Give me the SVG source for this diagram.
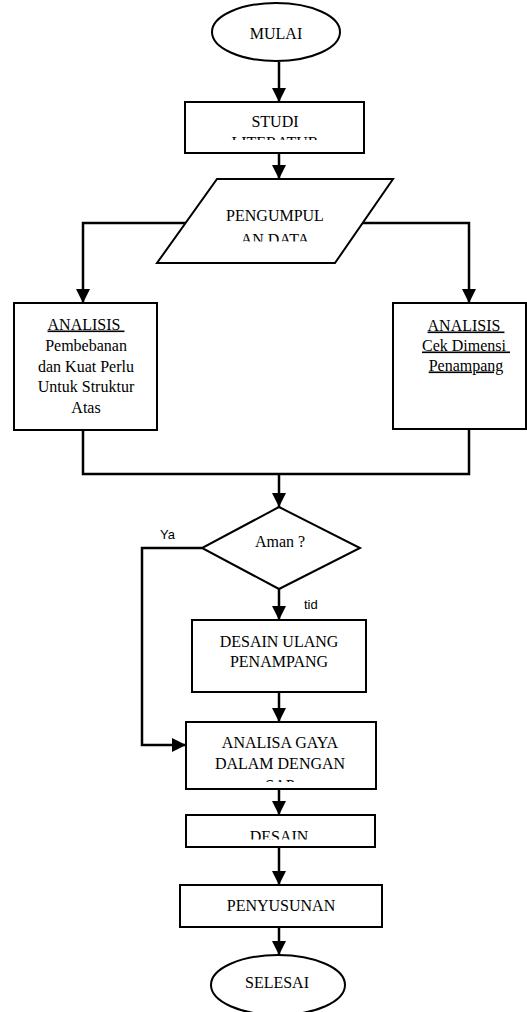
<svg xmlns="http://www.w3.org/2000/svg" width="527" height="1012" viewBox="0 0 527 1012">
<style>
.shape{fill:#fff;stroke:#000;stroke-width:2}
.conn{fill:none;stroke:#000;stroke-width:2.5}
.t{font-family:"Liberation Serif","Times New Roman",serif;font-size:16px;fill:#000;text-anchor:middle}
.s{font-family:"Liberation Sans",Arial,sans-serif;font-size:13px;fill:#000}
.u{text-decoration:underline}
</style>
<defs>
<marker id="ah" markerUnits="userSpaceOnUse" markerWidth="14" markerHeight="14" viewBox="0 0 14 14" refX="14" refY="7" orient="auto">
<path d="M0,0 L14,7 L0,14 Z" fill="#000"/>
</marker>
<clipPath id="c1"><rect x="186" y="103" width="177" height="37"/></clipPath>
<clipPath id="c2"><rect x="160" y="180" width="230" height="61.5"/></clipPath>
<clipPath id="c3"><rect x="187" y="723" width="188" height="59"/></clipPath>
<clipPath id="c4"><rect x="187" y="816" width="187" height="23.5"/></clipPath>
</defs>
<g id="connectors">
<line class="conn" x1="279" y1="62" x2="279" y2="102" marker-end="url(#ah)"/>
<line class="conn" x1="279" y1="153" x2="279" y2="179" marker-end="url(#ah)"/>
<polyline class="conn" points="186,223 83,223 83,303" marker-end="url(#ah)"/>
<polyline class="conn" points="363,223 469,223 469,303" marker-end="url(#ah)"/>
<polyline class="conn" points="83,430 83,474 469,474 469,429"/>
<line class="conn" x1="279" y1="474" x2="279" y2="507" marker-end="url(#ah)"/>
<line class="conn" x1="279" y1="589" x2="279" y2="620" marker-end="url(#ah)"/>
<polyline class="conn" points="202,548 142,548 142,745 186,745" marker-end="url(#ah)"/>
<line class="conn" x1="279" y1="692" x2="279" y2="722" marker-end="url(#ah)"/>
<line class="conn" x1="279" y1="789" x2="279" y2="815" marker-end="url(#ah)"/>
<line class="conn" x1="279" y1="847" x2="279" y2="885" marker-end="url(#ah)"/>
<line class="conn" x1="279" y1="927" x2="279" y2="955" marker-end="url(#ah)"/>
<text class="s" x="160" y="539">Ya</text>
<text class="s" x="304" y="609">tid</text>
</g>
<g id="mulai">
<ellipse class="shape" cx="276" cy="32" rx="64" ry="29"/>
<text class="t" x="276" y="39">MULAI</text>
</g>
<g id="studi">
<rect class="shape" x="185" y="102" width="179" height="51"/>
<g clip-path="url(#c1)">
<text class="t" x="275" y="127">STUDI</text>
<text class="t" x="275" y="147.5">LITERATUR</text>
</g>
</g>
<g id="pengumpulan">
<polygon class="shape" points="217,179 393,179 335,263 157,263"/>
<g clip-path="url(#c2)">
<text class="t" x="275" y="220.5">PENGUMPUL</text>
<text class="t" x="275" y="244.5">AN DATA</text>
</g>
</g>
<g id="analisis-kiri">
<rect class="shape" x="14" y="303" width="143" height="127"/>
<text class="t u" x="86" y="329.5">ANALISIS&#160;</text>
<text class="t" x="86" y="351">Pembebanan</text>
<text class="t" x="86" y="371.5">dan Kuat Perlu</text>
<text class="t" x="86" y="392">Untuk Struktur</text>
<text class="t" x="86" y="413">Atas</text>
</g>
<g id="analisis-kanan">
<rect class="shape" x="393" y="303" width="133" height="126"/>
<text class="t u" x="466" y="330.5">ANALISIS&#160;</text>
<text class="t u" x="466" y="350.5">Cek Dimensi&#160;</text>
<text class="t u" x="466" y="370.5">Penampang</text>
</g>
<g id="aman">
<polygon class="shape" points="279,507 360,548 279,589 202,548"/>
<text class="t" x="280" y="546.5">Aman ?</text>
</g>
<g id="desain-ulang">
<rect class="shape" x="192" y="620" width="174" height="72"/>
<text class="t" x="279" y="646.5">DESAIN ULANG</text>
<text class="t" x="279" y="666.5">PENAMPANG</text>
</g>
<g id="analisa-gaya">
<rect class="shape" x="186" y="722" width="190" height="67"/>
<g clip-path="url(#c3)">
<text class="t" x="280" y="747.5">ANALISA GAYA</text>
<text class="t" x="280" y="768.5">DALAM DENGAN</text>
<text class="t" x="280" y="790.5">SAP</text>
</g>
</g>
<g id="desain">
<rect class="shape" x="186" y="815" width="189" height="32"/>
<g clip-path="url(#c4)">
<text class="t" x="279" y="841.5">DESAIN</text>
</g>
</g>
<g id="penyusunan">
<rect class="shape" x="180" y="885" width="202" height="42"/>
<text class="t" x="281" y="910.5">PENYUSUNAN</text>
</g>
<g id="selesai">
<ellipse class="shape" cx="278" cy="985" rx="67" ry="30"/>
<text class="t" x="277" y="987.5">SELESAI</text>
</g>
</svg>
